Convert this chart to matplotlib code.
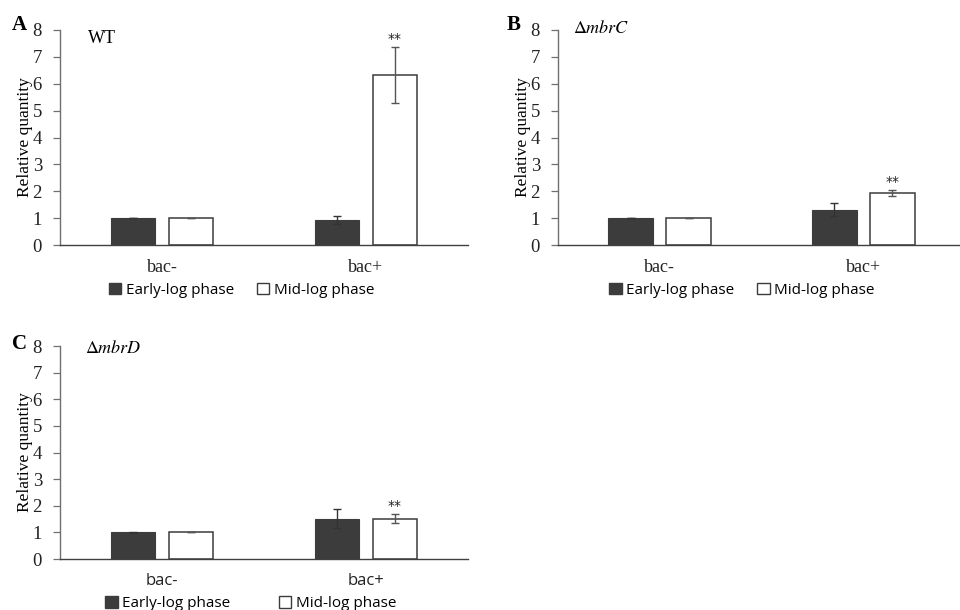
import matplotlib
matplotlib.use("Agg")
import matplotlib.pyplot as plt
from matplotlib.patches import Patch
import numpy as np

plt.rcParams["mathtext.fontset"] = "stix"

categories = ["bac-", "bac+"]
series = ["Early-log phase", "Mid-log phase"]

panels = ["A", "B", "C"]
strains = ["WT", r"$\Delta\mathit{mbrC}$", r"$\Delta\mathit{mbrD}$"]

early_vals = [[1.0, 0.94], [1.0, 1.31], [1.0, 1.51]]
early_err = [[0.01, 0.15], [0.01, 0.24], [0.01, 0.36]]
mid_vals = [[1.0, 6.33], [1.0, 1.93], [1.0, 1.52]]
mid_err = [[0.0, 1.05], [0.0, 0.1], [0.0, 0.17]]
stars = [[None, "**"], [None, "**"], [None, "**"]]

serif = "Liberation Serif"
sans = "Open Sans"
dark = "#3c3c3c"
axis_col = "#707070"

fig = plt.figure(figsize=(9.6, 6.1), dpi=100)
rects = [
    [60 / 960, 1 - 245 / 610, 408 / 960, 215 / 610],
    [558 / 960, 1 - 245 / 610, 402 / 960, 215 / 610],
    [60 / 960, 1 - 559 / 610, 408 / 960, 213 / 610],
]
xmaxes = [1.5, 1.475, 1.5]
cat_fonts = [serif, serif, sans]
cat_sizes = [13, 13, 12]
strain_pos = [(0.069, 0.94), (0.037, 0.986), (0.061, 0.967)]
letter_pos = [(-0.118, 1.0), (-0.129, 1.0), (-0.118, 0.985)]
legend_pos = [(0.445, -0.21), (0.458, -0.21), (0.468, -0.21)]
legend_space = [1.5, 1.5, 3.2]

w = 0.22
off = 0.142
for i, rect in enumerate(rects):
    ax = fig.add_axes(rect)
    x = np.arange(len(categories))
    ax.bar(x - off, early_vals[i], w, color=dark, edgecolor=dark, linewidth=0.8,
           yerr=early_err[i], error_kw=dict(ecolor="#333333", elinewidth=1, capsize=3, capthick=1))
    ax.bar(x + off, mid_vals[i], w, color="white", edgecolor=dark, linewidth=1.1,
           yerr=mid_err[i], error_kw=dict(ecolor="#555555", elinewidth=1, capsize=3, capthick=1))
    for j, s in enumerate(stars[i]):
        if s:
            ax.text(x[j] + off, mid_vals[i][j] + mid_err[i][j] + 0.04, s, ha="center", va="bottom",
                    fontsize=10, family="DejaVu Sans", color="#222222")
    ax.set_xlim(-0.5, xmaxes[i])
    ax.set_ylim(0, 8)
    ax.set_yticks(range(0, 9))
    ax.set_yticklabels([str(v) for v in range(0, 9)], family=serif, fontsize=13.5, color="#222222")
    ax.set_xticks(x)
    ax.set_xticklabels(categories, family=cat_fonts[i], fontsize=cat_sizes[i], color="#222222")
    ax.tick_params(axis="x", length=0, pad=10)
    ax.tick_params(axis="y", length=5, width=0.9, color=axis_col, pad=8)
    ax.set_ylabel("Relative quantity", family=serif, fontsize=12.5, labelpad=0)
    for sp in ["top", "right"]:
        ax.spines[sp].set_visible(False)
    ax.spines["left"].set_color(axis_col)
    ax.spines["left"].set_linewidth(1.0)
    ax.spines["bottom"].set_color("#404040")
    ax.spines["bottom"].set_linewidth(1.0)
    ax.text(strain_pos[i][0], strain_pos[i][1], strains[i], transform=ax.transAxes,
            family=serif, fontsize=13, va="baseline", ha="left")
    ax.text(letter_pos[i][0], letter_pos[i][1], panels[i], transform=ax.transAxes, family=serif,
            fontsize=15, fontweight="bold", va="baseline", ha="left")
    handles = [Patch(facecolor=dark, edgecolor=dark), Patch(facecolor="white", edgecolor=dark)]
    ax.legend(handles, series, loc="center", bbox_to_anchor=legend_pos[i], ncol=2,
              frameon=False, prop={"family": sans, "size": 11}, handlelength=0.8,
              handleheight=0.8, handletextpad=0.3, columnspacing=legend_space[i], borderaxespad=0)

fig.savefig("out.png", dpi=100)
